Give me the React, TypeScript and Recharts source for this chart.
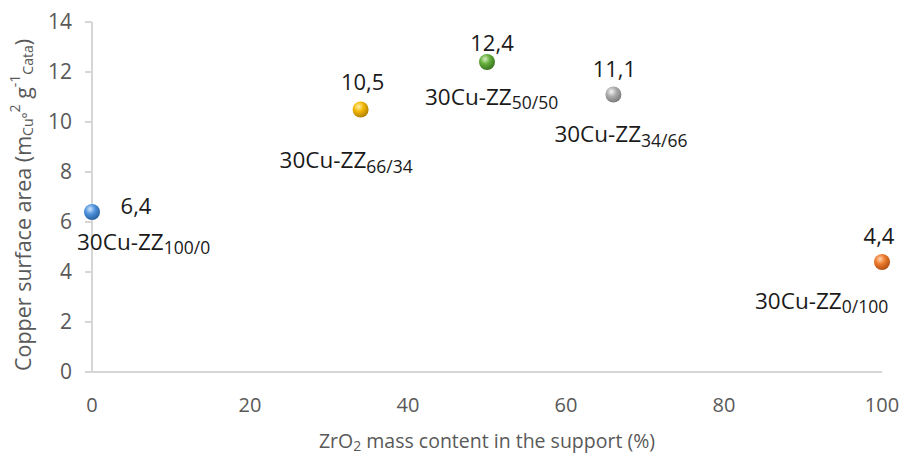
import React from 'react';
import { ScatterChart, Scatter, XAxis, YAxis, Label } from 'recharts';

const zro2Content = [0, 34, 50, 66, 100];
const copperArea = [6.4, 10.5, 12.4, 11.1, 4.4];
const sampleSubs = ['100/0', '66/34', '50/50', '34/66', '0/100'];
const valueLabels = ['6,4', '10,5', '12,4', '11,1', '4,4'];
const xTicks = [0, 20, 40, 60, 80, 100];
const yTicks = [0, 2, 4, 6, 8, 10, 12, 14];

// sphere colours: [light, base, dark]
const SPHERES = [
  ['#cfe4fa', '#4f93dc', '#275f9e'],
  ['#fff1a8', '#f2b705', '#b07f00'],
  ['#d6f0bf', '#62ad3a', '#3a7320'],
  ['#f4f4f4', '#ababab', '#7a7a7a'],
  ['#ffd3ad', '#ec7a2c', '#b04e10'],
];

// label placement relative to the marker centre
const VALUE_OFFSET = [[44, -7], [2, -29], [5, -20], [1, -27], [-3, -27]];
const NAME_OFFSET = [[-15, 29], [-81, 50], [-62, 34], [-59, 39], [-127, 38]];

const FONT = '"Open Sans", "Liberation Sans", sans-serif';
const AXIS_GREY = '#d6d6d6';
const TEXT_GREY = '#595959';

const chartData = zro2Content.map((x, i) => ({ x, y: copperArea[i], idx: i }));

const SphereShape = (props: any) => {
  const { cx, cy, payload } = props;
  const i = payload.idx;
  const c = SPHERES[i];
  const [vx, vy] = VALUE_OFFSET[i];
  const [nx, ny] = NAME_OFFSET[i];
  return (
    <g>
      <defs>
        <radialGradient id={`sph${i}`} cx="38%" cy="32%" r="70%">
          <stop offset="0%" stopColor={c[0]} />
          <stop offset="45%" stopColor={c[1]} />
          <stop offset="100%" stopColor={c[2]} />
        </radialGradient>
      </defs>
      <circle cx={cx} cy={cy} r={8} fill={`url(#sph${i})`} />
      <text x={cx + vx} y={cy + vy} textAnchor="middle" dominantBaseline="central"
        fontSize={22} fontFamily={FONT} fill="#1a1a1a">
        {valueLabels[i]}
      </text>
      <text x={cx + nx} y={cy + ny} textAnchor="start" dominantBaseline="central"
        fontSize={22.5} fontFamily={FONT} fill="#1a1a1a">
        30Cu-ZZ
        <tspan fontSize={17.5} dy={6}>{sampleSubs[i]}</tspan>
      </text>
    </g>
  );
};

const YTitle = (props: any) => {
  const vb = props.viewBox || {};
  const cx = 22;
  const cy = (vb.y ?? 22) + (vb.height ?? 350) / 2 + 8;
  return (
    <text x={cx} y={cy} transform={`rotate(-90, ${cx}, ${cy})`} textAnchor="middle"
      dominantBaseline="central" fontSize={21.5} fontFamily={FONT} fill={TEXT_GREY}>
      Copper surface area (m
      <tspan fontSize={14} dy={5}>Cu°</tspan>
      <tspan fontSize={14} dy={-13}>2</tspan>
      <tspan fontSize={21.5} dy={8}> g</tspan>
      <tspan fontSize={14} dy={-8}>-1</tspan>
      <tspan fontSize={14} dy={13}>Cata</tspan>
      <tspan fontSize={21.5} dy={-5}>)</tspan>
    </text>
  );
};

const XTitle = (props: any) => {
  const vb = props.viewBox || {};
  const cx = (vb.x ?? 92) + (vb.width ?? 790) / 2;
  return (
    <text x={cx} y={440} textAnchor="middle" dominantBaseline="central"
      fontSize={19.5} fontFamily={FONT} fill={TEXT_GREY}>
      ZrO
      <tspan fontSize={14} dy={5}>2</tspan>
      <tspan fontSize={19.5} dy={-5}> mass content in the support (%)</tspan>
    </text>
  );
};

export default function App() {
  return (
    <div style={{ position: 'absolute', left: 0, top: 0, width: 907, height: 455, background: '#fff' }}>
      <ScatterChart width={907} height={455} margin={{ top: 22, right: 25, left: 32, bottom: 23 }}>
        <XAxis
          dataKey="x"
          type="number"
          domain={[0, 100]}
          ticks={xTicks}
          tickLine={false}
          tickSize={0}
          tickMargin={26}
          height={60}
          axisLine={{ stroke: AXIS_GREY, strokeWidth: 2 }}
          tick={{ fill: TEXT_GREY, fontSize: 20, fontFamily: FONT }}
        >
          <Label content={XTitle} />
        </XAxis>
        <YAxis
          dataKey="y"
          type="number"
          domain={[0, 14]}
          ticks={yTicks}
          width={60}
          tickSize={7}
          tickMargin={13}
          tickLine={{ stroke: AXIS_GREY, strokeWidth: 2 }}
          axisLine={{ stroke: AXIS_GREY, strokeWidth: 2 }}
          tick={{ fill: TEXT_GREY, fontSize: 21, fontFamily: FONT }}
        >
          <Label content={YTitle} />
        </YAxis>
        <Scatter data={chartData} shape={SphereShape} isAnimationActive={false} />
      </ScatterChart>
    </div>
  );
}
